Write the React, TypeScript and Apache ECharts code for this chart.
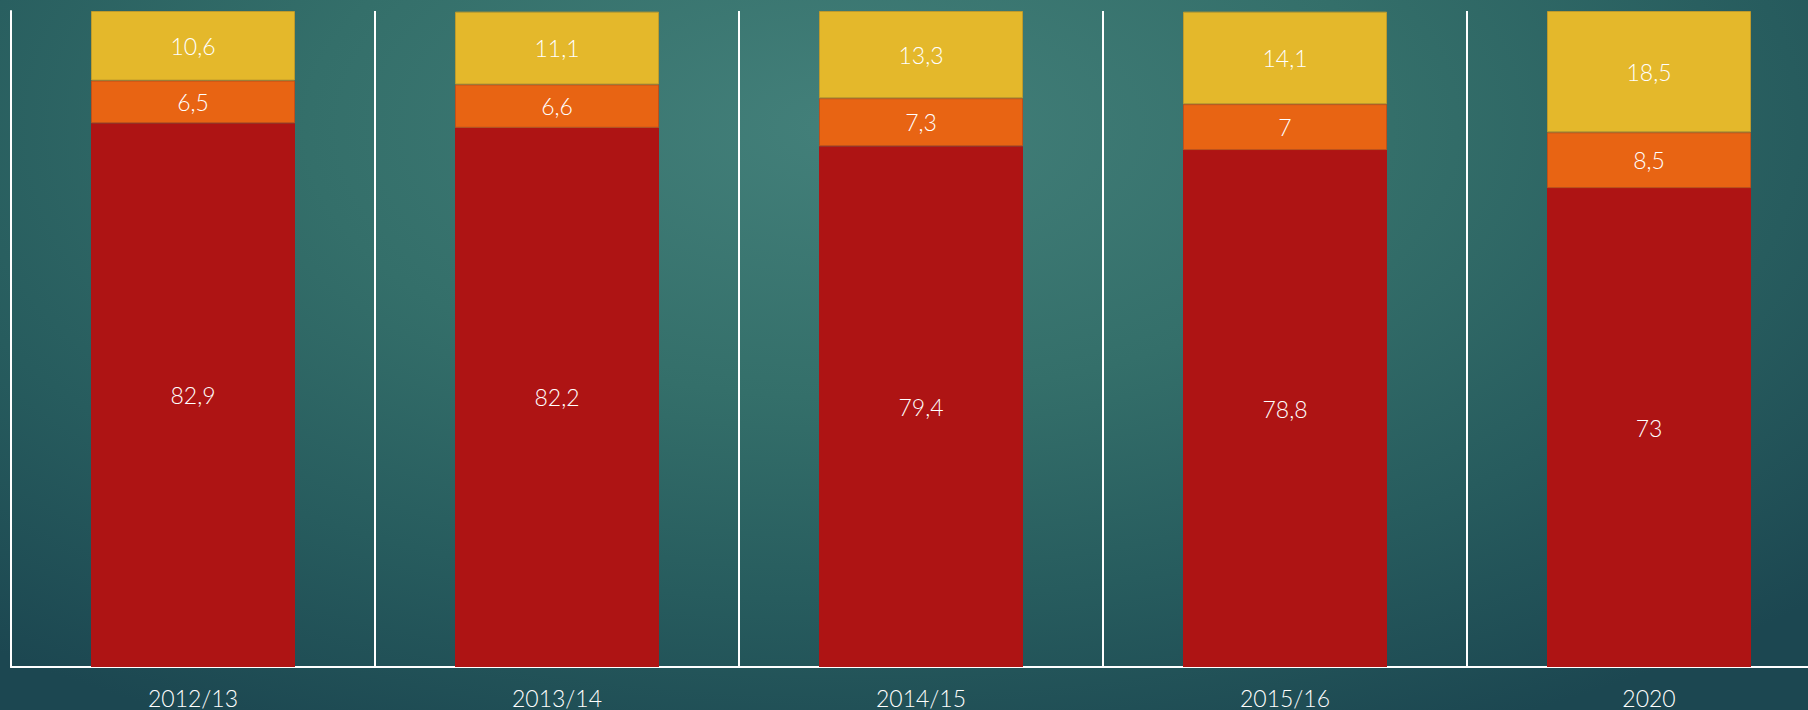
import React, { useEffect, useRef } from "react";
import * as echarts from "echarts";

const categories = ["2012/13", "2013/14", "2014/15", "2015/16", "2020"];
const redValues = [82.9, 82.2, 79.4, 78.8, 73];
const orangeValues = [6.5, 6.6, 7.3, 7, 8.5];
const yellowValues = [10.6, 11.1, 13.3, 14.1, 18.5];

const fmt = (v: number) => String(v).replace(".", ",");

export default function App() {
  const ref = useRef<HTMLDivElement>(null);
  useEffect(() => {
    if (!ref.current) return;
    const chart = echarts.init(ref.current, undefined, { renderer: "svg" });
    const label = {
      show: true,
      position: "inside",
      color: "#ffffff",
      fontSize: 23,
      fontFamily: "Lato, 'Open Sans', sans-serif",
      fontWeight: 300,
      formatter: (p: any) => fmt(p.value),
    };
    chart.setOption({
      animation: false,
      grid: { left: 11, top: 11, right: 9, height: 656, containLabel: false },
      xAxis: {
        type: "category",
        data: categories,
        boundaryGap: true,
        axisLine: { show: true, lineStyle: { color: "#ffffff", width: 2 } },
        axisTick: { show: false },
        splitLine: { show: true, lineStyle: { color: "#ffffff", width: 2 } },
        axisLabel: {
          color: "#ffffff",
          fontSize: 23,
          margin: 19,
          fontFamily: "Lato, 'Open Sans', sans-serif",
          fontWeight: 300,
        },
      },
      yAxis: {
        type: "value",
        min: 0,
        max: 100,
        show: true,
        axisLine: { show: true, lineStyle: { color: "#ffffff", width: 2 } },
        axisTick: { show: false },
        axisLabel: { show: false },
        splitLine: { show: false },
      },
      series: [
        {
          name: "Rouge",
          type: "bar",
          stack: "total",
          barWidth: 204,
          data: redValues,
          itemStyle: { color: "#AE1414" },
          label,
        },
        {
          name: "Orange",
          type: "bar",
          stack: "total",
          barWidth: 204,
          data: orangeValues,
          itemStyle: { color: "#E86413", borderColor: "#C0501A", borderWidth: 1 },
          label,
        },
        {
          name: "Jaune",
          type: "bar",
          stack: "total",
          barWidth: 204,
          data: yellowValues,
          itemStyle: { color: "#E4B82B", borderColor: "#BE9A2C", borderWidth: 1 },
          label,
        },
      ],
    });
    return () => chart.dispose();
  }, []);
  return (
    <div
      style={{
        position: "absolute",
        left: 0,
        top: 0,
        width: 1808,
        height: 710,
        overflow: "hidden",
        background:
          "radial-gradient(ellipse 75% 95% at 47% 18%, #43807A 0%, #346F6A 40%, #275C5E 70%, #1C4751 100%)",
      }}
    >
      <div ref={ref} style={{ width: 1840, height: 710 }} />
    </div>
  );
}
